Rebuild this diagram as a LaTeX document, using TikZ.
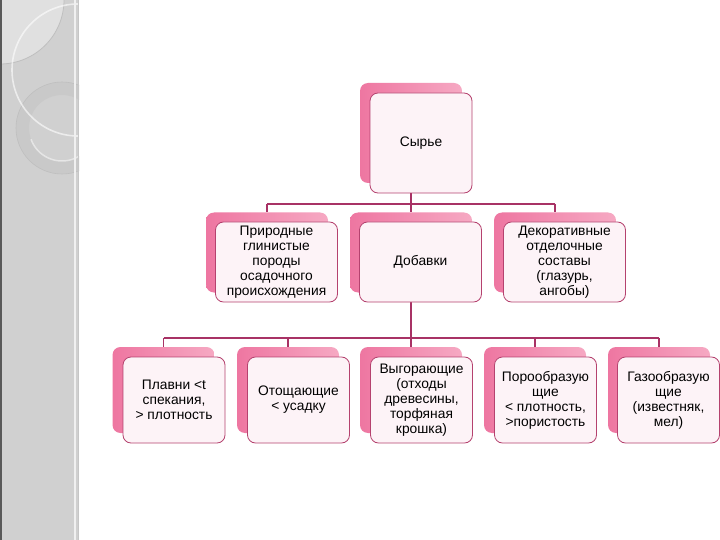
\documentclass[tikz,border=0pt]{standalone}
\usepackage{fontspec}
\setmainfont{Liberation Sans}
\usetikzlibrary{backgrounds}
\definecolor{bandgray}{HTML}{D0D0D0}
\definecolor{backpinkL}{HTML}{EE76A1}
\definecolor{backpinkR}{HTML}{F6A9C3}
\definecolor{frontfill}{HTML}{FDF3F7}
\definecolor{frontline}{HTML}{B5426F}
\definecolor{linkcol}{HTML}{A83265}
\tikzset{
  backbox/.style={rectangle, rounded corners=8pt, left color=backpinkL, right color=backpinkR, draw=none, inner sep=0pt},
  frontbox/.style={rectangle, rounded corners=8pt, fill=frontfill, draw=frontline, line width=0.8pt, inner sep=2pt, align=center, font=\fontsize{13.8}{15}\selectfont},
  topsize/.style={minimum width=102pt, minimum height=100pt},
  midsize/.style={minimum width=122pt, minimum height=80pt},
  lowsize/.style={minimum width=102pt, minimum height=86pt},
  link/.style={draw=linkcol, line width=1.6pt}
}
\begin{document}
\begin{tikzpicture}[x=1pt,y=-1pt]
\useasboundingbox (0,0) rectangle (720,540);
% boxes: back (shadow) and front (text)
\node[backbox, topsize] (top-b) at (411,133) {};
\node[frontbox, topsize] (top) at (421,143) {Сырье};
\node[backbox, midsize] (a-b) at (267,252.5) {};
\node[frontbox, midsize] (a) at (276.5,262) {Природные\\глинистые\\породы\\осадочного\\происхождения};
\node[backbox, midsize] (b-b) at (411,252.5) {};
\node[frontbox, midsize] (b) at (420.5,262) {Добавки};
\node[backbox, midsize] (c-b) at (555,252.5) {};
\node[frontbox, midsize] (c) at (564.5,262) {Декоративные\\отделочные\\составы\\(глазурь,\\ангобы)};
\node[backbox, lowsize] (d1-b) at (163.5,390) {};
\node[frontbox, lowsize] (d1) at (174,400) {Плавни <t\\спекания,\\> плотность};
\node[backbox, lowsize] (d2-b) at (288,390) {};
\node[frontbox, lowsize] (d2) at (298.5,400) {Отощающие\\< усадку};
\node[backbox, lowsize] (d3-b) at (411,390) {};
\node[frontbox, lowsize] (d3) at (421.5,400) {Выгорающие\\(отходы\\древесины,\\торфяная\\крошка)};
\node[backbox, lowsize] (d4-b) at (535,390) {};
\node[frontbox, lowsize] (d4) at (545.5,400) {Порообразую\\щие\\< плотность,\\>пористость};
\node[backbox, lowsize] (d5-b) at (659,390) {};
\node[frontbox, lowsize] (d5) at (668.5,400) {Газообразую\\щие\\(известняк,\\мел)};
\coordinate (bus1) at (411,204);
\coordinate (bus2) at (411,338);
\begin{pgfonlayer}{background}
\fill[white] (0,0) rectangle (720,540);
% left decorative band
\begin{scope}
\clip (0,0) rectangle (79,540);
\fill[bandgray] (0,0) rectangle (79,540);
\fill[gray!24] (0,0) circle (64);
\draw[gray!50, line width=0.8pt] (0,0) circle (64);
\fill[gray!42, even odd rule] (62,128) circle (46) (62,128) circle (33);
\draw[gray!50, line width=0.6pt] (62,128) circle (46);
\draw[white, line width=1.6pt, opacity=0.6] (78,70) circle (66);
\draw[white, line width=1.5pt, opacity=0.5] (62,128) ++(160:33) arc (160:20:33);
\draw[gray!70!black, line width=2pt] (1,0) -- (1,540);
\draw[gray!12, line width=1.5pt] (75,0) -- (75,540);
\draw[gray!45, line width=0.8pt] (78.6,0) -- (78.6,540);
\end{scope}
% connectors
\draw[link] (top-b.center) -- (top-b.center |- bus1);
\draw[link] (a-b.north |- bus1) -- (c-b.north |- bus1);
\draw[link] (a-b.north |- bus1) -- (a-b.north);
\draw[link] (b-b.north |- bus1) -- (b-b.north);
\draw[link] (c-b.north |- bus1) -- (c-b.north);
\draw[link] (b-b.center) -- (b-b.center |- bus2);
\draw[link] (d1-b.north |- bus2) -- (d5-b.north |- bus2);
\draw[link] (d1-b.north |- bus2) -- (d1-b.north);
\draw[link] (d2-b.north |- bus2) -- (d2-b.north);
\draw[link] (d3-b.north |- bus2) -- (d3-b.north);
\draw[link] (d4-b.north |- bus2) -- (d4-b.north);
\draw[link] (d5-b.north |- bus2) -- (d5-b.north);
\end{pgfonlayer}
\end{tikzpicture}
\end{document}
